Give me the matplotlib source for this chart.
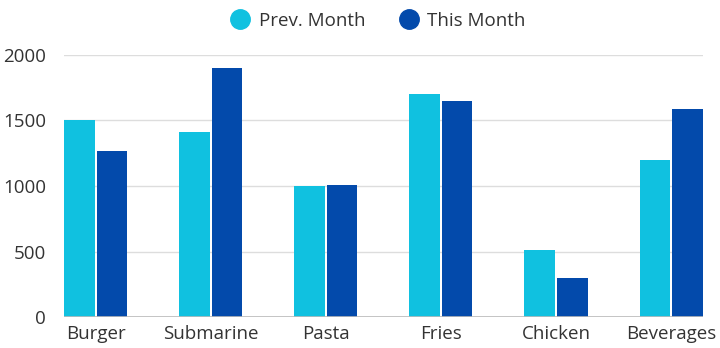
import numpy as np
import matplotlib.pyplot as plt

categories = ["Burger", "Submarine", "Pasta", "Fries", "Chicken", "Beverages"]
prev_month = [1500, 1410, 1000, 1700, 510, 1200]
this_month = [1270, 1900, 1010, 1650, 300, 1590]

plt.rcParams["font.family"] = ["Open Sans", "DejaVu Sans"]

fig = plt.figure(figsize=(7.2, 3.48), dpi=100)
ax = fig.add_axes([0.0889, 0.089, 0.887, 0.753])

x = np.arange(len(categories))
w = 0.265
ax.bar(x - w/2 - 0.009, prev_month, w, color="#10C1E0", label="Prev. Month", zorder=3)
ax.bar(x + w/2 + 0.009, this_month, w, color="#034AAB", label="This Month", zorder=3)

ax.set_xlim(-0.274, 5.274)
ax.set_ylim(0, 2000)
ax.set_yticks([0, 500, 1000, 1500, 2000])
ax.set_xticks(x)
ax.set_xticklabels(categories)
ax.grid(axis="y", color="#dddddd", linewidth=1, zorder=0)
ax.axhline(0, color="#bbbbbb", linewidth=1.2, zorder=4)
for s in ax.spines.values():
    s.set_visible(False)
ax.tick_params(length=0, labelsize=13.5, colors="#333333")
ax.tick_params(axis="y", pad=13)
ax.tick_params(axis="x", pad=6)

# legend with round markers centred above the plot
handles = [plt.Line2D([], [], marker="o", linestyle="", markersize=14, color=c)
           for c in ["#10C1E0", "#034AAB"]]
fig.legend(handles, ["Prev. Month", "This Month"], loc="center", bbox_to_anchor=(0.519, 0.94),
           ncol=2, frameon=False, fontsize=13.5, handletextpad=0.0, columnspacing=1.3,
           labelcolor="#333333")

fig.savefig("out.png", dpi=100)
